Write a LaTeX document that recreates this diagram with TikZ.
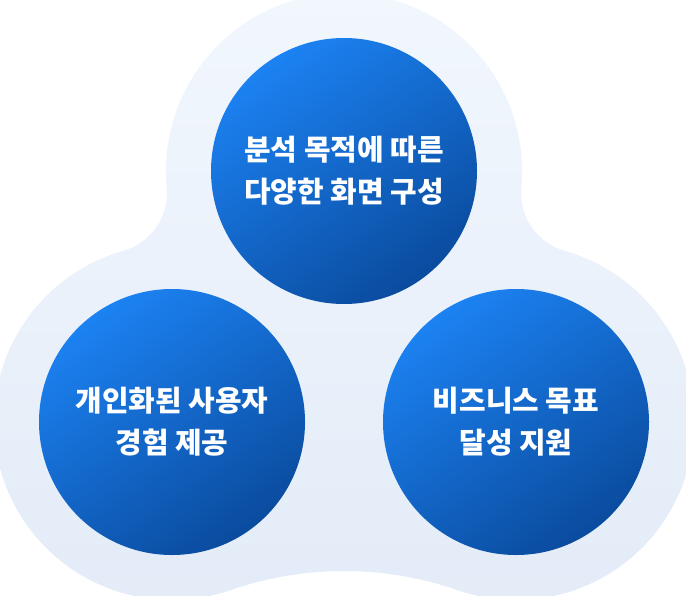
\documentclass[tikz,border=0pt]{standalone}
\usepackage{fontspec}
\newfontfamily\krfont{Noto Sans CJK KR}
\definecolor{blobtop}{HTML}{F2F7FE}
\definecolor{blobbot}{HTML}{E2EBF7}
\definecolor{bluelight}{HTML}{1C82F2}
\definecolor{bluedark}{HTML}{0A4B9E}
\tikzset{
  bluecircle/.style={circle, minimum size=266bp, inner sep=0pt,
    top color=bluelight, bottom color=bluedark, shading angle=35,
    text=white, align=center,
    font=\krfont\bfseries\fontsize{29}{42}\selectfont}
}
\begin{document}
\begin{tikzpicture}[x=1bp,y=-1bp]
\useasboundingbox (0,0) rectangle (686,596);
\begin{scope}
\clip (0,0) rectangle (686,596);
\shade[top color=blobtop, bottom color=blobbot]
  (521.2,187.5)
  arc[start angle=5.32, end angle=-185.32, radius=178]
  arc[start angle=-5.32, end angle=74.16, radius=60]
  arc[start angle=-105.84, end angle=-289.13, radius=178]
  arc[start angle=-109.13, end angle=-70.87, radius=347]
  arc[start angle=109.13, end angle=-74.16, radius=178]
  arc[start angle=105.84, end angle=185.32, radius=60]
  -- cycle;
\end{scope}
\node[bluecircle] (ntop) at (344,171) {분석 목적에 따른\\다양한 화면 구성};
\node[bluecircle] (nleft) at (172,422) {개인화된 사용자\\경험 제공};
\node[bluecircle] (nright) at (516,422) {비즈니스 목표\\달성 지원};
\end{tikzpicture}
\end{document}
